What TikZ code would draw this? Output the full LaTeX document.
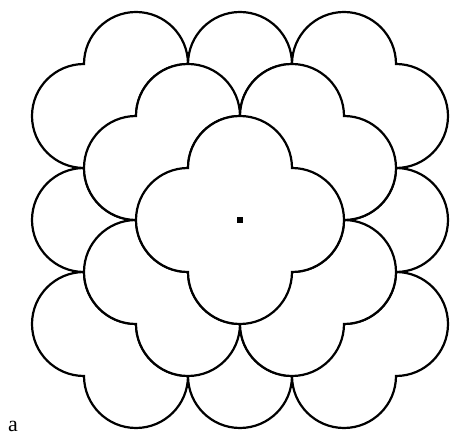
\documentclass[tikz,border=0pt]{standalone}
\usepackage{fontspec}
\setmainfont{Liberation Serif}

% quatrefoil: square of half side #3 with a half circle on each side
\newcommand{\quatrefoil}[3]{%
  \path[lobe] (#1-#3,#2+#3)
    arc[start angle=180, end angle=0, radius=#3]
    arc[start angle=90, end angle=-90, radius=#3]
    arc[start angle=0, end angle=-180, radius=#3]
    arc[start angle=-90, end angle=-270, radius=#3] -- cycle;}

\begin{document}
\begin{tikzpicture}[
        x=1pt, y=1pt,
        lobe/.style={draw, fill=white, line width=2.2pt, line join=miter}
    ]
        \useasboundingbox (0,0) rectangle (451,437);

        % Outer ring
        \foreach \i in {-1,0,1}
            \foreach \j in {-1,0,1}
                \quatrefoil{240+104*\i}{217+104*\j}{52};

        % Middle ring
        \foreach \i in {-1,1}
            \foreach \j in {-1,1}
                \quatrefoil{240+52*\i}{217+52*\j}{52};

        % Centre
        \quatrefoil{240}{217}{52};
        \fill (240,217) coordinate (centre) +(-2.8,-2.8) rectangle +(2.8,2.8);

        % Label
        \node[anchor=base west, inner sep=0pt, font=\fontsize{22}{26}\selectfont] (label) at (8,5) {a};
    \end{tikzpicture}
\end{document}
